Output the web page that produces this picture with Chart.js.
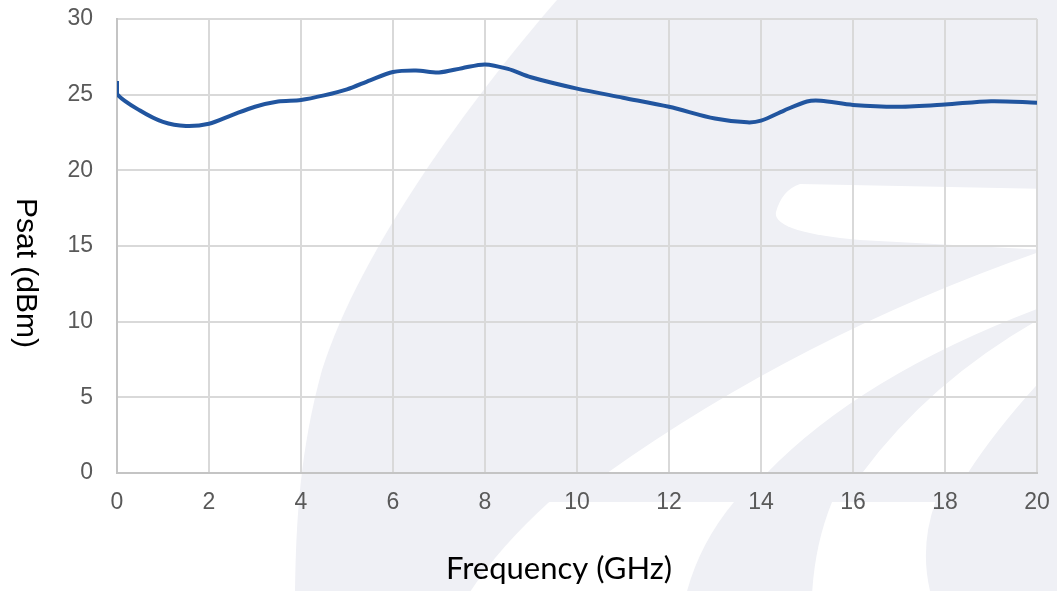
<!DOCTYPE html>
<html>
<head>
<meta charset="utf-8">
<script src="https://cdn.jsdelivr.net/npm/chart.js@4"></script>
<style>
  body { margin: 0; background: #ffffff; }
  #wrap { width: 1057px; height: 591px; position: relative; }
</style>
</head>
<body>
<div id="wrap"><canvas id="psatChart"></canvas></div>
<script>
// Psat vs frequency
const freqGHz = [0, 0, 0.5, 1.0, 1.5, 2.0, 2.5, 3.0, 3.5, 4.0, 4.5, 5.0, 5.5, 6.0, 6.5, 7.0, 7.5, 8.0, 8.5, 9.0,
                 10, 11, 12, 13, 13.7, 14.0, 14.5, 15.0, 15.3, 16, 17, 18, 19, 20];
const psatDbm = [25.9, 25.05, 23.95, 23.2, 22.93, 23.08, 23.65, 24.2, 24.55, 24.65, 24.95, 25.35, 25.95, 26.5, 26.6, 26.47, 26.75, 27.0, 26.7, 26.15,
                 25.4, 24.8, 24.2, 23.42, 23.17, 23.28, 23.95, 24.55, 24.6, 24.32, 24.2, 24.35, 24.57, 24.47];

const xTickStep = 2;
const yTickStep = 5;
const xTitle = 'Frequency (GHz)';
const yTitle = 'Psat (dBm)';

// light watermark behind the plot (logo swooshes)
const watermark = {
  id: 'watermark',
  beforeDraw(chart) {
    const ctx = chart.ctx;
    const a = chart.chartArea;
    ctx.save();
    ctx.fillStyle = '#ffffff';
    ctx.fillRect(0, 0, chart.width, chart.height);

    ctx.fillStyle = '#eff0f5';
    ctx.beginPath();
    ctx.moveTo(557, 0);
    ctx.bezierCurveTo(470, 100, 360, 250, 322, 370);
    ctx.bezierCurveTo(300, 450, 296, 520, 295, 591);
    ctx.lineTo(1057, 591);
    ctx.lineTo(1057, 0);
    ctx.closePath();
    ctx.fill();

    ctx.fillStyle = '#ffffff';
    // bands inside the plot
    ctx.save();
    ctx.beginPath();
    ctx.rect(a.left, a.top, a.right - a.left, a.bottom - a.top);
    ctx.clip();

    ctx.beginPath(); // flat band near the top right
    ctx.moveTo(800, 184);
    ctx.lineTo(1045, 189);
    ctx.lineTo(1045, 250);
    ctx.lineTo(860, 240);
    ctx.quadraticCurveTo(772, 232, 776, 212);
    ctx.quadraticCurveTo(782, 190, 800, 184);
    ctx.fill();

    ctx.beginPath(); // wide band
    ctx.moveTo(603, 476);
    ctx.quadraticCurveTo(800, 335, 1045, 250);
    ctx.lineTo(1045, 306);
    ctx.quadraticCurveTo(860, 375, 764, 476);
    ctx.closePath();
    ctx.fill();

    ctx.beginPath(); // narrow band
    ctx.moveTo(860, 476);
    ctx.quadraticCurveTo(930, 380, 1045, 316);
    ctx.lineTo(1045, 376);
    ctx.quadraticCurveTo(995, 430, 966, 476);
    ctx.closePath();
    ctx.fill();
    ctx.restore();

    // bands below the axis
    ctx.save();
    ctx.beginPath();
    ctx.rect(0, 502, chart.width, chart.height - 502);
    ctx.clip();
    ctx.beginPath();
    ctx.moveTo(557, 495);
    ctx.lineTo(740, 495);
    ctx.quadraticCurveTo(700, 540, 686, 595);
    ctx.lineTo(468, 595);
    ctx.quadraticCurveTo(500, 545, 557, 495);
    ctx.fill();

    ctx.beginPath();
    ctx.moveTo(835, 495);
    ctx.lineTo(938, 495);
    ctx.quadraticCurveTo(918, 545, 931, 595);
    ctx.lineTo(812, 595);
    ctx.quadraticCurveTo(815, 540, 835, 495);
    ctx.fill();
    ctx.restore();

    ctx.restore();
  }
};

// axis titles drawn by hand: the y title reads top to bottom
const axisTitles = {
  id: 'axisTitles',
  afterDraw(chart) {
    const ctx = chart.ctx;
    ctx.save();
    ctx.fillStyle = '#000000';
    ctx.textAlign = 'center';
    ctx.textBaseline = 'middle';
    ctx.font = '31px Lato, "Open Sans", sans-serif';
    ctx.fillText(xTitle, 559, 569);

    ctx.translate(25, 273);
    ctx.rotate(Math.PI / 2);
    ctx.font = '30px "Liberation Sans", Arial, sans-serif';
    ctx.fillText(yTitle, 0, 0);
    ctx.restore();
  }
};

const tickFont = { family: '"Liberation Sans", Arial, sans-serif', size: 23 };

new Chart(document.getElementById('psatChart'), {
  type: 'line',
  data: {
    datasets: [{
      data: freqGHz.map((f, i) => ({ x: f, y: psatDbm[i] })),
      borderColor: '#21559f',
      borderWidth: 4,
      pointRadius: 0,
      tension: 0.3,
      fill: false
    }]
  },
  options: {
    responsive: true,
    maintainAspectRatio: false,
    animation: false,
    layout: { padding: { left: 0, top: 19, right: 20, bottom: 0 } },
    plugins: {
      legend: { display: false },
      tooltip: { enabled: false }
    },
    scales: {
      x: {
        type: 'linear',
        min: 0,
        max: 20,
        afterFit: s => { s.height = 118; s.paddingLeft = 0; s.paddingRight = 0; },
        ticks: { stepSize: xTickStep, color: '#595959', font: tickFont, padding: 16, maxRotation: 0 },
        grid: { color: '#d9d9d9', lineWidth: 2, drawTicks: false },
        border: { color: '#c4c4c4', width: 2 }
      },
      y: {
        min: 0,
        max: 30,
        afterFit: s => { s.width = 117; s.paddingTop = 0; s.paddingBottom = 0; },
        ticks: { stepSize: yTickStep, color: '#595959', font: tickFont, padding: 24 },
        grid: { color: '#d9d9d9', lineWidth: 2, drawTicks: false },
        border: { color: '#c4c4c4', width: 2 }
      }
    }
  },
  plugins: [watermark, axisTitles]
});
</script>
</body>
</html>
